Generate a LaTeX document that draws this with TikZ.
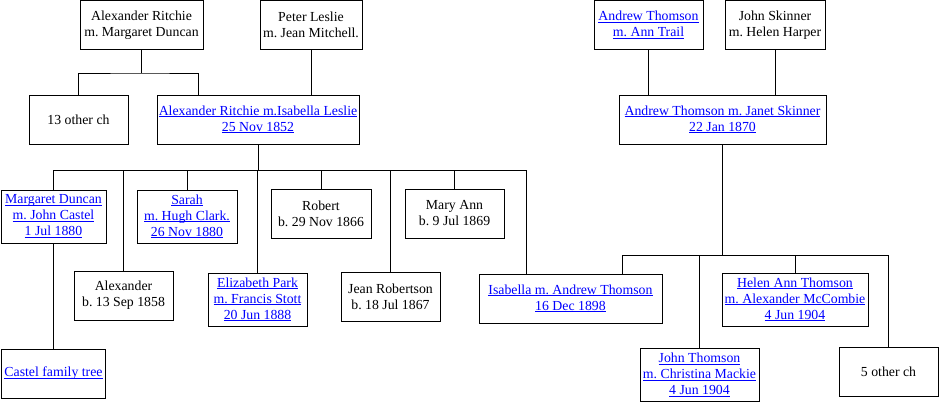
\documentclass[tikz,border=0pt]{standalone}
\usepackage{fontspec}
\setmainfont{Liberation Serif}
\frenchspacing
\newcommand{\lk}[1]{\leavevmode\sbox0{#1}\rlap{\rule[-2.2pt]{\wd0}{0.9pt}}\usebox0}
\definecolor{linkblue}{RGB}{0,0,255}
\tikzset{
  box/.style={draw, line width=1pt, inner sep=0pt, align=center,
    font=\fontsize{13.8}{16}\selectfont},
  link/.style={text=linkblue},
  conn/.style={draw, line width=1pt}
}
\begin{document}
\begin{tikzpicture}[x=1pt,y=-1pt]
\useasboundingbox (0,0) rectangle (939,402);
% generation 1
\node[box, minimum width=123pt, minimum height=48.5pt] (ar) at (141.5,24.75) {Alexander Ritchie\\m. Margaret Duncan};
\node[box, minimum width=102pt, minimum height=48.5pt] (pl) at (311,24.75) {Peter Leslie\\m. Jean Mitchell.};
\node[box, link, minimum width=109pt, minimum height=48.5pt] (at) at (648.5,24.75) {\lk{Andrew Thomson}\\\lk{m. Ann Trail}};
\node[box, minimum width=100pt, minimum height=48.5pt] (js) at (775,24.75) {John Skinner\\m. Helen Harper};
% generation 2
\node[box, minimum width=99pt, minimum height=49pt] (other13) at (78.5,119.5) {13 other ch};
\node[box, link, minimum width=202pt, minimum height=49pt] (ari) at (258,119.5) {\lk{Alexander Ritchie m.Isabella Leslie}\\\lk{25 Nov 1852}};
\node[box, link, minimum width=207pt, minimum height=49pt] (atj) at (722.5,119.5) {\lk{Andrew Thomson m. Janet Skinner}\\\lk{22 Jan 1870}};
% generation 3
\node[box, link, minimum width=105pt, minimum height=53pt] (md) at (53.5,216.5) {\lk{Margaret Duncan}\\\lk{m. John Castel}\\\lk{1 Jul 1880}};
\node[box, link, minimum width=100pt, minimum height=53pt] (sarah) at (187,216.5) {\lk{Sarah}\\\lk{m. Hugh Clark.}\\\lk{26 Nov 1880}};
\node[box, minimum width=100pt, minimum height=49pt] (robert) at (321,213.5) {Robert\\b. 29 Nov 1866};
\node[box, minimum width=99pt, minimum height=49pt] (maryann) at (454.5,213.5) {Mary Ann\\b. 9 Jul 1869};
\node[box, minimum width=99pt, minimum height=49pt] (alex) at (123.5,295.5) {Alexander\\b. 13 Sep 1858};
\node[box, link, minimum width=99pt, minimum height=53pt] (eliz) at (257.5,299.5) {\lk{Elizabeth Park}\\\lk{m. Francis Stott}\\\lk{20 Jun 1888}};
\node[box, minimum width=99pt, minimum height=49pt] (jean) at (390.5,296.5) {Jean Robertson\\b. 18 Jul 1867};
\node[box, link, minimum width=183pt, minimum height=49pt] (isab) at (570.5,298.5) {\lk{Isabella m. Andrew Thomson}\\\lk{16 Dec 1898}};
\node[box, link, minimum width=146pt, minimum height=53pt] (helen) at (795,299.5) {\lk{Helen Ann Thomson}\\\lk{m. Alexander McCombie}\\\lk{4 Jun 1904}};
% generation 4
\node[box, link, minimum width=104pt, minimum height=49pt] (castel) at (53.5,373.5) {\lk{Castel family tree}};
\node[box, link, minimum width=119pt, minimum height=53pt] (john) at (699.5,374.75) {\lk{John Thomson}\\\lk{m. Christina Mackie}\\\lk{4 Jun 1904}};
\node[box, minimum width=99pt, minimum height=49pt] (other5) at (888.5,371.5) {5 other ch};
% connectors, Ritchie side
\coordinate (j1) at (141.5,73);
\coordinate (ariL) at (198,95);
\draw[conn] (ar.south) -- (j1);
\draw[conn] (other13.north) |- (j1) -| (ariL);
\draw[conn] (pl.south) -- (pl.south |- ari.north);
\coordinate (bar1) at (258,170);
\coordinate (r1) at (526,170);
\draw[conn] (ari.south) -- (bar1);
\draw[conn] (md.north) |- (r1) -- (r1 |- isab.north);
\draw[conn] (alex.north) -- (alex.north |- bar1);
\draw[conn] (sarah.north) -- (sarah.north |- bar1);
\draw[conn] (eliz.north) -- (eliz.north |- bar1);
\draw[conn] (robert.north) -- (robert.north |- bar1);
\draw[conn] (jean.north) -- (jean.north |- bar1);
\draw[conn] (maryann.north) -- (maryann.north |- bar1);
\draw[conn] (md.south) -- (md.south |- castel.north);
% connectors, Thomson side
\draw[conn] (at.south) -- (at.south |- atj.north);
\draw[conn] (js.south) -- (js.south |- atj.north);
\coordinate (l2) at (622,255);
\draw[conn] (atj.south) -- (atj.south |- l2);
\draw[conn] (l2 |- isab.north) -- (l2) -- (l2 -| other5.north) -- (other5.north);
\draw[conn] (john.north) -- (john.north |- l2);
\draw[conn] (helen.north) -- (helen.north |- l2);
\end{tikzpicture}
\end{document}
